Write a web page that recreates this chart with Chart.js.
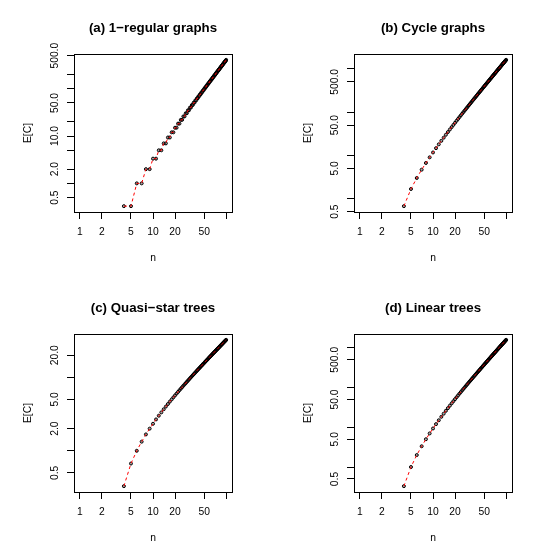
<!DOCTYPE html>
<html><head><meta charset="utf-8">
<script src="https://cdn.jsdelivr.net/npm/chart.js@4.4.0/dist/chart.umd.min.js"></script>
<style>
html,body{margin:0;padding:0;background:#fff}
#wrap{position:relative;width:560px;height:560px;background:#fff}
.p{position:absolute;width:280px;height:280px}
canvas{display:block}
</style></head><body>
<div id="wrap">
<div class="p" style="left:0;top:0"><canvas id="c0" width="280" height="280"></canvas></div>
<div class="p" style="left:280px;top:0"><canvas id="c1" width="280" height="280"></canvas></div>
<div class="p" style="left:0;top:280px"><canvas id="c2" width="280" height="280"></canvas></div>
<div class="p" style="left:280px;top:280px"><canvas id="c3" width="280" height="280"></canvas></div>
</div>
<script>
// ---- data ----
const nValues = [4,5,6,7,8,9,10,11,12,13,14,15,16,17,18,19,20,21,22,23,24,25,26,27,28,29,30,31,32,33,34,35,36,37,38,39,40,41,42,43,44,45,46,47,48,49,50,51,52,53,54,55,56,57,58,59,60,61,62,63,64,65,66,67,68,69,70,71,72,73,74,75,76,77,78,79,80,81,82,83,84,85,86,87,88,89,90,91,92,93,94,95,96,97,98,99,100];

const ecRegular = [0.33,0.33,1,1,2,2,3.33,3.33,5,5,7,7,9.33,9.33,12,12,15,15,18.33,18.33,22,22,26,26,30.33,30.33,35,35,40,40,45.33,45.33,51,51,57,57,63.33,63.33,70,70,77,77,84.33,84.33,92,92,100,100,108.33,108.33,117,117,126,126,135.33,135.33,145,145,155,155,165.33,165.33,176,176,187,187,198.33,198.33,210,210,222,222,234.33,234.33,247,247,260,260,273.33,273.33,287,287,301,301,315.33,315.33,330,330,345,345,360.33,360.33,376,376,392,392,408.33];

const ecCycle = [0.67,1.67,3,4.67,6.67,9,11.67,14.67,18,21.67,25.67,30,34.67,39.67,45,50.67,56.67,63,69.67,76.67,84,91.67,99.67,108,116.67,125.67,135,144.67,154.67,165,175.67,186.67,198,209.67,221.67,234,246.67,259.67,273,286.67,300.67,315,329.67,344.67,360,375.67,391.67,408,424.67,441.67,459,476.67,494.67,513,531.67,550.67,570,589.67,609.67,630,650.67,671.67,693,714.67,736.67,759,781.67,804.67,828,851.67,875.67,900,924.67,949.67,975,1000.67,1026.67,1053,1079.67,1106.67,1134,1161.67,1189.67,1218,1246.67,1275.67,1305,1334.67,1364.67,1395,1425.67,1456.67,1488,1519.67,1551.67,1584,1616.67];

const ecQuasiStar = [0.33,0.67,1,1.33,1.67,2,2.33,2.67,3,3.33,3.67,4,4.33,4.67,5,5.33,5.67,6,6.33,6.67,7,7.33,7.67,8,8.33,8.67,9,9.33,9.67,10,10.33,10.67,11,11.33,11.67,12,12.33,12.67,13,13.33,13.67,14,14.33,14.67,15,15.33,15.67,16,16.33,16.67,17,17.33,17.67,18,18.33,18.67,19,19.33,19.67,20,20.33,20.67,21,21.33,21.67,22,22.33,22.67,23,23.33,23.67,24,24.33,24.67,25,25.33,25.67,26,26.33,26.67,27,27.33,27.67,28,28.33,28.67,29,29.33,29.67,30,30.33,30.67,31,31.33,31.67,32,32.33];

const ecLinear = [0.33,1,2,3.33,5,7,9.33,12,15,18.33,22,26,30.33,35,40,45.33,51,57,63.33,70,77,84.33,92,100,108.33,117,126,135.33,145,155,165.33,176,187,198.33,210,222,234.33,247,260,273.33,287,301,315.33,330,345,360.33,376,392,408.33,425,442,459.33,477,495,513.33,532,551,570.33,590,610,630.33,651,672,693.33,715,737,759.33,782,805,828.33,852,876,900.33,925,950,975.33,1001,1027,1053.33,1080,1107,1134.33,1162,1190,1218.33,1247,1276,1305.33,1335,1365,1395.33,1426,1457,1488.33,1520,1552,1584.33];

const xTicks = [1,2,5,10,20,50,100];
const xTickLabels = ['1','2','5','10','20','50',''];
const xLimits = [1,100];

const yTicksA = [0.5,1,2,5,10,20,50,100,200,500];
const yLabelsA = ['0.5','','2.0','','10.0','','50.0','','','500.0'];
const yTicksB = [0.5,1,5,10,50,100,500,1000];
const yLabelsB = ['0.5','','5.0','','50.0','','500.0',''];
const yTicksC = [0.5,1,2,5,10,20];
const yLabelsC = ['0.5','','2.0','5.0','','20.0'];
const yTicksD = [0.5,1,5,10,50,100,500,1000];
const yLabelsD = ['0.5','','5.0','','50.0','','500.0',''];

const titles = ['(a) 1\u2212regular graphs','(b) Cycle graphs','(c) Quasi\u2212star trees','(d) Linear trees'];

// ---- drawing ----
const FONT = '"Liberation Sans", Arial, Helvetica, sans-serif';
const TICK_FS = 10.3;
function logPad(lo, hi){
  const a = Math.log10(lo), b = Math.log10(hi), d = (b - a) * 0.04;
  return [Math.pow(10, a - d), Math.pow(10, b + d)];
}
const mctx = document.createElement('canvas').getContext('2d');
mctx.font = TICK_FS + 'px ' + FONT;

const boxPlugin = {
  id: 'rbox',
  beforeDraw(chart){
    const c = chart.ctx; c.save(); c.fillStyle = '#fff'; c.fillRect(0,0,chart.width,chart.height); c.restore();
  },
  afterDraw(chart){
    const a = chart.chartArea, c = chart.ctx;
    c.save(); c.strokeStyle = '#000'; c.lineWidth = 1;
    c.strokeRect(Math.round(a.left)+0.5, Math.round(a.top)+0.5, Math.round(a.right-a.left), Math.round(a.bottom-a.top));
    c.restore();
  }
};

function panel(id, title, ys, yTicks, yLabels){
  const pts = nValues.map((n,i)=>({x:n, y:ys[i]}));
  const yr = logPad(Math.min(...ys), Math.max(...ys));
  const xr = logPad(xLimits[0], xLimits[1]);
  let widest = 0;
  yLabels.forEach(l => { widest = Math.max(widest, mctx.measureText(l).width); });
  const yPad = 74 - 7 - 55 - widest/2;
  new Chart(document.getElementById(id), {
    type: 'scatter',
    data: { datasets: [
      { data: pts, showLine: true, fill: false, tension: 0, borderColor: '#ff0000', borderWidth: 1, borderDash: [3,3], pointRadius: 0, order: 0 },
      { data: pts, showLine: false, pointRadius: 1.5, pointBorderWidth: 1, borderColor: '#000', pointBorderColor: '#000', backgroundColor: 'rgba(0,0,0,0.35)', pointBackgroundColor: 'rgba(0,0,0,0.35)', order: 1 }
    ]},
    options: {
      responsive: false, animation: false, devicePixelRatio: 1,
      layout: { padding: { left: 0, right: 48, top: 0, bottom: 0 } },
      plugins: {
        legend: { display: false }, tooltip: { enabled: false },
        title: { display: true, text: title, fullSize: false, color: '#000',
          font: { family: FONT, size: 13.3, weight: 'bold', lineHeight: 1.2 },
          padding: { top: 20.5, bottom: 17.54 } }
      },
      scales: {
        x: { type: 'logarithmic', position: 'bottom', min: xr[0], max: xr[1], bounds: 'data',
          afterBuildTicks: s => { s.ticks = xTicks.map(v => ({ value: v })); },
          afterFit: s => { s.height = 68; },
          ticks: { autoSkip: false, minRotation: 0, maxRotation: 0, padding: 7, color: '#000',
            font: { family: FONT, size: TICK_FS }, callback: (v, i) => xTickLabels[i] },
          grid: { drawOnChartArea: false, drawTicks: true, tickLength: 7, color: '#000', lineWidth: 1 },
          border: { display: false },
          title: { display: true, text: 'n', color: '#000', font: { family: FONT, size: 10.3, lineHeight: 1.2 }, padding: { top: 0, bottom: 16 } }
        },
        y: { type: 'logarithmic', position: 'left', min: yr[0], max: yr[1], bounds: 'data',
          afterBuildTicks: s => { s.ticks = yTicks.map(v => ({ value: v })); },
          afterFit: s => { s.width = 74; },
          ticks: { autoSkip: false, minRotation: 90, maxRotation: 90, crossAlign: 'center', padding: yPad, color: '#000',
            font: { family: FONT, size: TICK_FS }, callback: (v, i) => yLabels[i] },
          grid: { drawOnChartArea: false, drawTicks: true, tickLength: 7, color: '#000', lineWidth: 1 },
          border: { display: false },
          title: { display: true, text: 'E[C]', color: '#000', font: { family: FONT, size: 10.3, lineHeight: 1.2 }, padding: { top: 22, bottom: 0 } }
        }
      }
    },
    plugins: [boxPlugin]
  });
}

panel('c0', titles[0], ecRegular, yTicksA, yLabelsA);
panel('c1', titles[1], ecCycle, yTicksB, yLabelsB);
panel('c2', titles[2], ecQuasiStar, yTicksC, yLabelsC);
panel('c3', titles[3], ecLinear, yTicksD, yLabelsD);
</script>
</body></html>
